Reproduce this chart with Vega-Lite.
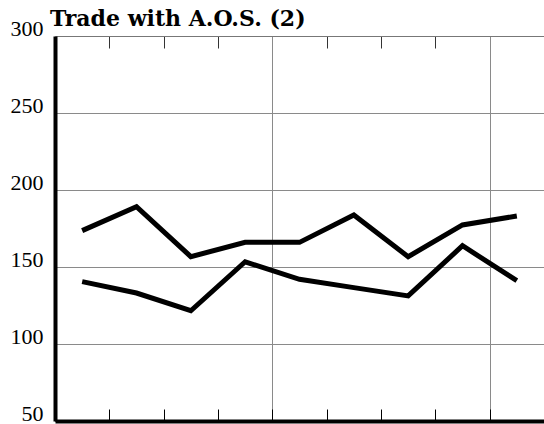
{
  "$schema": "https://vega.github.io/schema/vega-lite/v6.json",
  "autosize": {"type": "none"},
  "padding": {"left": 55, "top": 36, "right": 0, "bottom": 3},
  "width": 489,
  "height": 385,
  "background": "white",
  "config": {
    "view": {"stroke": null},
    "axisY": {
      "labelFont": "Liberation Serif",
      "labelFontSize": 22,
      "labelColor": "black",
      "labelBaseline": "alphabetic",
      "labelPadding": 12,
      "labelOffset": -1
    }
  },
  "title": {
    "text": "Trade with A.O.S. (2)",
    "anchor": "start",
    "frame": "group",
    "font": "DejaVu Serif",
    "fontWeight": "bold",
    "fontSize": 22,
    "color": "black",
    "baseline": "alphabetic",
    "offset": 9,
    "dx": -5,
    "dy": 40
  },
  "data": {
    "values": [
      {"q": 0.5, "series": "A", "value": 173.6},
      {"q": 1.5, "series": "A", "value": 189.2},
      {"q": 2.5, "series": "A", "value": 156.7},
      {"q": 3.5, "series": "A", "value": 166},
      {"q": 4.5, "series": "A", "value": 166},
      {"q": 5.5, "series": "A", "value": 183.8},
      {"q": 6.5, "series": "A", "value": 156.7},
      {"q": 7.5, "series": "A", "value": 177.3},
      {"q": 8.5, "series": "A", "value": 183.1},
      {"q": 0.5, "series": "B", "value": 140.5},
      {"q": 1.5, "series": "B", "value": 133.1},
      {"q": 2.5, "series": "B", "value": 121.6},
      {"q": 3.5, "series": "B", "value": 153.4},
      {"q": 4.5, "series": "B", "value": 142},
      {"q": 5.5, "series": "B", "value": 136.6},
      {"q": 6.5, "series": "B", "value": 131.2},
      {"q": 7.5, "series": "B", "value": 163.8},
      {"q": 8.5, "series": "B", "value": 141.1}
    ]
  },
  "resolve": {"axis": {"x": "independent"}},
  "layer": [
    {
      "transform": [{"filter": "datum.series == 'A'"}],
      "mark": {"type": "line", "color": "black", "strokeWidth": 5, "strokeJoin": "miter"},
      "encoding": {
        "x": {
          "field": "q", "type": "quantitative",
          "scale": {"domain": [0, 9], "nice": false, "zero": false},
          "axis": {
            "orient": "bottom",
            "title": null,
            "values": [0, 1, 2, 3, 4, 5, 6, 7, 8, 9],
            "labels": false,
            "tickSize": -12,
            "tickColor": "black",
            "tickWidth": 1,
            "domainColor": "black",
            "domainWidth": 4,
            "grid": true,
            "gridColor": "#8a8a8a",
            "gridWidth": 1,
            "gridOpacity": {"condition": {"test": "datum.value == 4 || datum.value == 8", "value": 1}, "value": 0}
          }
        },
        "y": {
          "field": "value", "type": "quantitative",
          "scale": {"domain": [50, 300], "nice": false, "zero": false},
          "axis": {
            "title": null,
            "values": [50, 100, 150, 200, 250, 300],
            "tickSize": 0,
            "domainColor": "black",
            "domainWidth": 4,
            "grid": true,
            "gridColor": "#8a8a8a",
            "gridWidth": 1
          }
        }
      }
    },
    {
      "transform": [{"filter": "datum.series == 'B'"}],
      "mark": {"type": "line", "color": "black", "strokeWidth": 5, "strokeJoin": "miter"},
      "encoding": {
        "x": {
          "field": "q", "type": "quantitative",
          "scale": {"domain": [0, 9], "nice": false, "zero": false},
          "axis": {
            "orient": "top",
            "title": null,
            "values": [1, 2, 3, 5, 6, 7, 9],
            "labels": false,
            "tickSize": -12,
            "tickColor": "#333333",
            "tickWidth": 1,
            "domainColor": "#777777",
            "domainWidth": 1,
            "grid": false
          }
        },
        "y": {
          "field": "value", "type": "quantitative",
          "scale": {"domain": [50, 300], "nice": false, "zero": false}
        }
      }
    }
  ]
}
